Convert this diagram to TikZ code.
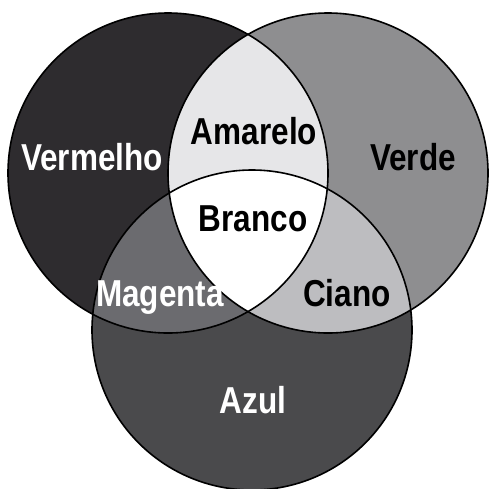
\documentclass[tikz,border=0pt]{standalone}
\usepackage{fontspec}
\newfontfamily\lblfont{Liberation Sans}[FakeStretch=0.84]
\begin{document}
\begin{tikzpicture}[x=1pt,y=-1pt,
  lbl/.style={font=\lblfont\bfseries\fontsize{37.5}{40}\selectfont, inner sep=0pt, anchor=base},
  ring/.style={draw=black, line width=1.6pt}]
\useasboundingbox (0,0) rectangle (489,488);
\def\R{160}
\coordinate (cl) at (168,173);
\coordinate (cr) at (328,173);
\coordinate (cb) at (252,330);
\begin{scope}
\clip (0,0) rectangle (489,488);
% base fills
\fill[fill={rgb,255:red,46;green,44;blue,47}] (cl) circle (\R);
\fill[fill={rgb,255:red,142;green,142;blue,144}] (cr) circle (\R);
\fill[fill={rgb,255:red,74;green,74;blue,76}] (cb) circle (\R);
% pairwise
\begin{scope}\clip (cl) circle (\R);
  \fill[fill={rgb,255:red,230;green,230;blue,232}] (cr) circle (\R);
  \fill[fill={rgb,255:red,107;green,107;blue,111}] (cb) circle (\R);
\end{scope}
\begin{scope}\clip (cr) circle (\R);
  \fill[fill={rgb,255:red,189;green,189;blue,192}] (cb) circle (\R);
\end{scope}
\begin{scope}\clip (cl) circle (\R);\clip (cr) circle (\R);
  \fill[white] (cb) circle (\R);
\end{scope}
% outlines
\draw[ring] (cl) circle (\R);
\draw[ring] (cr) circle (\R);
\draw[ring] (cb) circle (\R);
\end{scope}
% labels
\node[lbl, text=white] (vermelho) at (92,170) {Vermelho};
\node[lbl, text=black] (amarelo) at (254,144) {Amarelo};
\node[lbl, text=black] (verde) at (413,170) {Verde};
\node[lbl, text=black] (branco) at (253,231) {Branco};
\node[lbl, text=white] (magenta) at (160,306) {Magenta};
\node[lbl, text=black] (ciano) at (347,306) {Ciano};
\node[lbl, text=white] (azul) at (253,413) {Azul};
\end{tikzpicture}
\end{document}
